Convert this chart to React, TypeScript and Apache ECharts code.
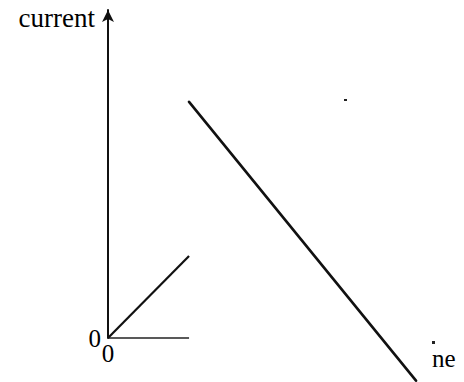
import React, { useEffect, useRef } from "react";
import * as echarts from "echarts";

// time (arbitrary units) and current (arbitrary units)
const riseTime = [0, 2];
const riseCurrent = [0, 2.5];
const baseTime = [0, 2];
const baseCurrent = [0, 0];
const fallTime = [2, 7.6];
const fallCurrent = [7.2, -1.3];
const yName = "current";
const xName = "ne";

const pairs = (xs: number[], ys: number[]) => xs.map((x, i) => [x, ys[i]]);

export default function App() {
  const ref = useRef<HTMLDivElement>(null);
  useEffect(() => {
    document.body.style.margin = "0";
    const chart = echarts.init(ref.current!, null, { renderer: "svg" });
    const font = "'Liberation Serif', 'Times New Roman', serif";
    const lineStyle = { color: "#111", width: 2.2 };
    chart.setOption({
      animation: false,
      backgroundColor: "#fff",
      grid: { left: 108, top: 10, width: 308, bottom: 44 },
      xAxis: {
        type: "value",
        min: 0,
        max: 7.6,
        axisLine: { show: false },
        axisTick: { show: false },
        splitLine: { show: false },
        axisLabel: {
          formatter: (v: number) => (v === 0 ? "0" : ""),
          color: "#000",
          fontFamily: font,
          fontSize: 25,
          margin: 3,
          showMaxLabel: false,
        },
        name: xName,
        nameLocation: "end",
        nameGap: 16,
        nameTextStyle: {
          color: "#000",
          fontFamily: font,
          fontSize: 25,
          align: "left",
          verticalAlign: "top",
          padding: [8, 0, 0, 0],
        },
      },
      yAxis: {
        type: "value",
        min: 0,
        max: 10,
        axisLine: {
          show: true,
          lineStyle: { color: "#111", width: 2 },
          symbol: ["none", "arrow"],
          symbolSize: [9, 12],
        },
        axisTick: { show: false },
        splitLine: { show: false },
        axisLabel: {
          formatter: (v: number) => (v === 0 ? "0" : ""),
          color: "#000",
          fontFamily: font,
          fontSize: 25,
          margin: 7,
          showMaxLabel: false,
          padding: [0, 0, 4, 0],
        },
        name: yName,
        nameLocation: "end",
        nameGap: -8,
        nameTextStyle: {
          color: "#000",
          fontFamily: font,
          fontSize: 27,
          align: "right",
          verticalAlign: "middle",
          padding: [0, 13, 0, 0],
        },
      },
      graphic: [
        { type: "rect", shape: { x: 344, y: 99, width: 3, height: 2 }, style: { fill: "#222" } },
        { type: "rect", shape: { x: 432, y: 341, width: 3, height: 3 }, style: { fill: "#222" } },
      ],
      series: [
        {
          type: "line",
          data: pairs(baseTime, baseCurrent),
          showSymbol: false,
          clip: false,
          lineStyle: { color: "#222", width: 1.6 },
        },
        {
          type: "line",
          data: pairs(riseTime, riseCurrent),
          showSymbol: false,
          clip: false,
          lineStyle,
        },
        {
          type: "line",
          data: pairs(fallTime, fallCurrent),
          showSymbol: false,
          clip: false,
          lineStyle: { color: "#111", width: 2.6, cap: "round" },
        },
      ],
    });
    return () => chart.dispose();
  }, []);
  return <div ref={ref} style={{ width: 464, height: 382 }} />;
}
